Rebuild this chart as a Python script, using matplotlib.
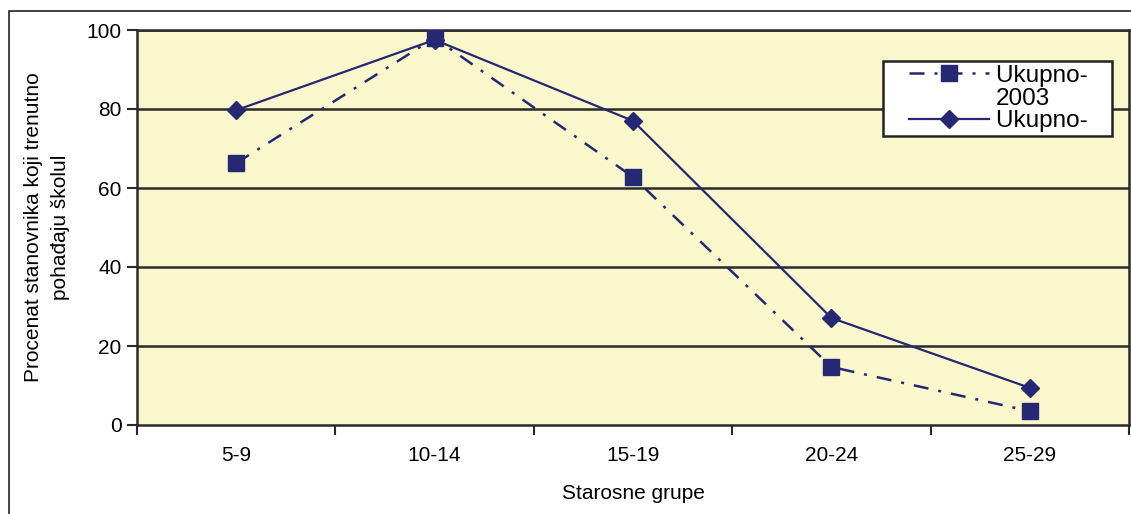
import matplotlib.pyplot as plt
from matplotlib.patches import Rectangle
from matplotlib.legend_handler import HandlerLine2D
import numpy as np

plt.rcParams['font.family'] = ['Liberation Sans', 'DejaVu Sans']

# age groups and school attendance share (%)
groups = ['5-9', '10-14', '15-19', '20-24', '25-29']
ukupno_2003 = [66.3, 98.0, 62.8, 14.7, 3.5]
ukupno = [79.7, 97.5, 77.0, 27.1, 9.4]

navy = '#262873'
x = np.arange(len(groups))


class RaisedLine(HandlerLine2D):
    """Line handler that sits on the first line of a multi-line label."""
    def __init__(self, dy=0, **kw):
        super().__init__(**kw)
        self.dy = dy

    def create_artists(self, *args, **kwargs):
        artists = super().create_artists(*args, **kwargs)
        for a in artists:
            a.set_ydata(np.asarray(a.get_ydata()) + self.dy)
        return artists


fig = plt.figure(figsize=(11.31, 5.14), dpi=100)
ax = fig.add_axes([137 / 1131, 1 - 425 / 514, (1129 - 137) / 1131, (425 - 30) / 514])
ax.set_facecolor('#faf7cd')

# outer chart frame
fig.patches.append(Rectangle((9 / 1131, -0.1), 1.2, 1 - 11 / 514 + 0.1,
                             transform=fig.transFigure, fill=False,
                             edgecolor='#222222', linewidth=1.2))

for yv in [20, 40, 60, 80, 100]:
    ax.axhline(yv, color='#2a2a2a', linewidth=1.8, zorder=1)

l1, = ax.plot(x, ukupno_2003, color=navy, linewidth=1.8, dashes=(6, 4, 1.2, 4),
              marker='s', markersize=11, label='Ukupno-   \n2003', zorder=3)
l2, = ax.plot(x, ukupno, color=navy, linewidth=1.6, marker='D', markersize=9.5,
              label='Ukupno-   ', zorder=3)

ax.set_xlim(-0.5, len(groups) - 0.5)
ax.set_ylim(0, 100)
ax.set_yticks([0, 20, 40, 60, 80, 100])
ax.set_xticks(x)
ax.set_xticklabels(groups)
ax.set_xticks(np.arange(len(groups) + 1) - 0.5, minor=True)
ax.tick_params(axis='x', which='major', length=0, pad=15, labelsize=15)
ax.tick_params(axis='x', which='minor', length=7, width=1.5, color='#2a2a2a')
ax.tick_params(axis='y', length=7, width=1.5, color='#2a2a2a', labelsize=15, pad=4)

for s in ax.spines.values():
    s.set_color('#2a2a2a')
    s.set_linewidth(1.8)

ax.set_xlabel('Starosne grupe', fontsize=15, labelpad=14)
ax.set_ylabel('Procenat stanovnika koji trenutno\npohađaju školul', fontsize=15,
              labelpad=12, linespacing=1.55)

leg = ax.legend(handles=[l1, l2], loc='upper left',
                bbox_to_anchor=(746 / 992, 1 - 31 / 395),
                fontsize=17.5, frameon=True, fancybox=False, handlelength=4.2,
                labelspacing=0.0, borderpad=0.15, handletextpad=0.3,
                borderaxespad=0,
                handler_map={l1: RaisedLine(dy=10, xpad=0.9),
                             l2: HandlerLine2D(xpad=0.9)})
texts = leg.get_texts()
texts[0].set_linespacing(1.08)
texts[1].set_linespacing(1.0)
leg.get_frame().set_edgecolor('#222222')
leg.get_frame().set_linewidth(1.8)
leg.get_frame().set_facecolor('white')
leg.get_frame().set_alpha(1)

fig.savefig('out.png', dpi=100)
